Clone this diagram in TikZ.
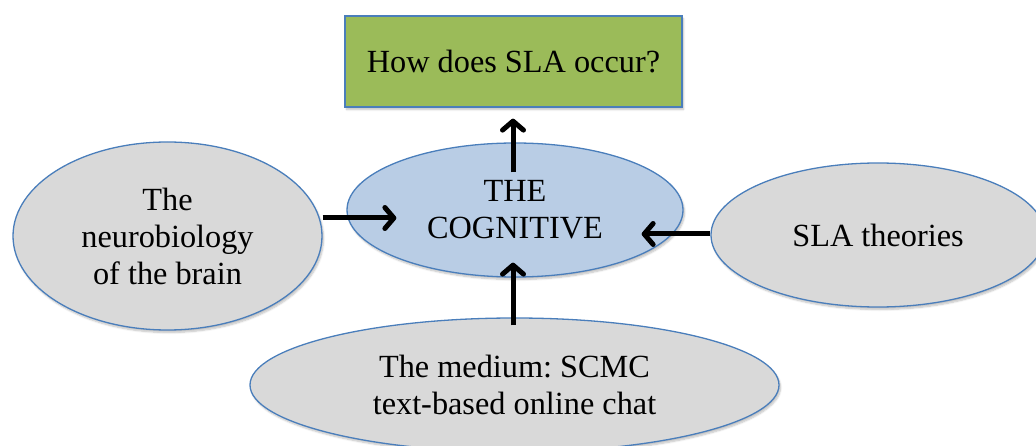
\documentclass[tikz,border=0pt]{standalone}
\usepackage{fontspec}
\setmainfont{Liberation Serif}
\usetikzlibrary{shapes.geometric,arrows.meta,shadows.blur}
\definecolor{bordblue}{HTML}{4A7EBB}
\definecolor{boxgreen}{HTML}{9BBB59}
\definecolor{cogblue}{HTML}{B9CDE5}
\definecolor{ovgray}{HTML}{D9D9D9}
\tikzset{
  x=1pt, y=-1pt,
  txt/.style={font=\frenchspacing\fontsize{32.3}{37}\selectfont, align=center, inner sep=0pt, text=black},
  shad/.style={blur shadow={shadow xshift=1.5pt, shadow yshift=-2.5pt, shadow blur steps=6, shadow opacity=25}},
  qbox/.style={txt, shad, rectangle, draw=bordblue, line width=1.3pt, fill=boxgreen},
  cogov/.style={txt, shad, ellipse, draw=bordblue, line width=1.3pt, fill=cogblue},
  grayov/.style={txt, shad, ellipse, draw=bordblue, line width=1.3pt, fill=ovgray},
  arr/.style={line width=5pt, black, -{Straight Barb[length=9pt, width=21pt, round]}}
}
\begin{document}
\begin{tikzpicture}
\useasboundingbox (0,0) rectangle (1036,446);
\clip (0,0) rectangle (1036,446);
\node[qbox, minimum width=337pt, minimum height=91pt] (g) at (513.5,61.5) {How does SLA occur?};
\node[cogov, minimum width=336pt, minimum height=134pt] (c) at (515,210) {THE\\COGNITIVE};
\node[grayov, minimum width=309pt, minimum height=188pt] (l) at (167.5,236) {The\\neurobiology\\of the brain};
\node[grayov, minimum width=334pt, minimum height=144pt] (r) at (878,235) {SLA theories};
\node[grayov, minimum width=529pt, minimum height=134pt] (b) at (514.5,385) {The medium: SCMC\\text-based online chat};
\draw[arr] ([xshift=-2pt,yshift=-30pt]c.north) -- ([xshift=-0.5pt,yshift=-11pt]g.south);
\draw[arr] ([yshift=18pt]l.east) -- ([xshift=50pt,yshift=-8pt]c.west);
\draw[arr] ([yshift=1pt]r.west) -- ([xshift=-42pt,yshift=-24pt]c.east);
\draw[arr] ([xshift=-1.5pt,yshift=-8pt]b.north) -- ([xshift=-2pt,yshift=15pt]c.south);
\end{tikzpicture}
\end{document}
